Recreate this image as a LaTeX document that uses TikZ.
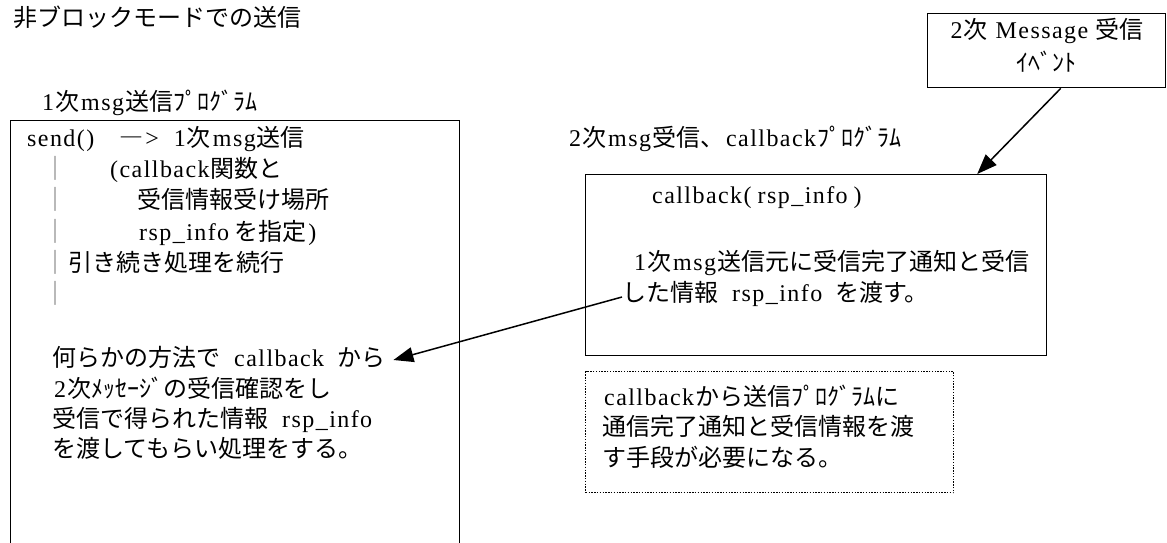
\documentclass[tikz,border=0pt]{standalone}
\usepackage{fontspec}
\setmainfont{Noto Sans CJK JP}
\newfontfamily\lt[LetterSpace=6]{Liberation Serif}
\usetikzlibrary{arrows.meta}
% Latin text, letter-spaced to the width of half-width characters
\newcommand{\hw}[1]{\hspace{2pt}{\lt\fontsize{24}{28}\selectfont #1}\hspace{1pt}}
\newcommand{\hs}{\hspace{12pt}}
\begin{document}
\begin{tikzpicture}[x=1pt,y=-1pt,
  txt/.style={anchor=west, inner sep=0pt, text height=20pt, text depth=3pt, font=\fontsize{24}{28}\selectfont},
  barch/.style={txt, text=black!55},
  box/.style={draw, line width=1.4pt, inner sep=0pt, anchor=north west},
  dotbox/.style={box, line width=1.4pt, dash pattern=on 1.4pt off 1.4pt},
  arr/.style={line width=1.5pt, -{Triangle[length=20pt,width=15pt]}}]
\useasboundingbox (0,0) rectangle (1167,542);
\clip (0,0) rectangle (1167,542);
% title
\node[txt] (t0) at (13,18) {非ブロックモードでの送信};
% left program
\node[txt] (t1) at (40,102) {\hw{1}次\hw{msg}送信ﾌﾟﾛｸﾞﾗﾑ};
\node[box, minimum width=449pt, minimum height=440pt] (lb) at (10,120) {};
\node[txt] (s1) at (25,138) {\hw{send()}\hspace{24pt}―\hw{>}\hs\hw{1}次\hw{msg}送信};
\node[barch] (b1) at (43,169) {｜};
\node[txt] (s2) at (108,169) {\hw{(callback}関数と};
\node[barch] (b2) at (43,200) {｜};
\node[txt] (s3) at (137,200) {受信情報受け場所};
\node[barch] (b3) at (43,232) {｜};
\node[txt] (s4) at (137,232) {\hw{rsp\_info}\hspace{4pt}を指定\hw{)}};
\node[barch] (b4) at (43,263) {｜};
\node[txt] (s5) at (68,263) {引き続き処理を続行};
\node[barch] (b5) at (43,294) {｜};
\node[txt] (k1) at (52,358) {何らかの方法で\hs\hw{callback}\hs から};
\node[txt] (k2) at (52,389) {\hw{2}次ﾒｯｾｰｼﾞの受信確認をし};
\node[txt] (k3) at (52,419) {受信で得られた情報\hs\hw{rsp\_info}};
\node[txt] (k4) at (52,449) {を渡してもらい処理をする。};
% event box
\node[box, minimum width=238pt, minimum height=74pt] (ev) at (927,13) {};
\node[txt, anchor=center] (e1) at (1046,30) {\hw{2}次\hspace{6pt}\hw{Message}\hspace{6pt}受信};
\node[txt, anchor=center] (e2) at (1046,63) {ｲﾍﾞﾝﾄ};
% callback program
\node[txt] (c0) at (567,138) {\hw{2}次\hw{msg}受信、\hw{callback}ﾌﾟﾛｸﾞﾗﾑ};
\node[box, minimum width=461pt, minimum height=181pt] (cb) at (585,174) {};
\node[txt] (c1) at (650,195) {\hw{callback(\hspace{6pt}rsp\_info\hspace{6pt})}};
\node[txt] (c2) at (632,262) {\hw{1}次\hw{msg}送信元に受信完了通知と受信};
\node[txt] (c3) at (622,293) {した情報\hs\hw{rsp\_info}\hs を渡す。};
% dotted note
\node[dotbox, minimum width=368pt, minimum height=121pt] (db) at (585,371) {};
\node[txt] (d1) at (602,397) {\hw{callback}から送信ﾌﾟﾛｸﾞﾗﾑに};
\node[txt] (d2) at (602,427) {通信完了通知と受信情報を渡};
\node[txt] (d3) at (602,458) {す手段が必要になる。};
% arrows
\coordinate (a1s) at ([xshift=14pt]ev.south);
\coordinate (a1e) at ([xshift=161pt]cb.north);
\draw[arr] (a1s) -- (a1e);
\coordinate (a2s) at ([yshift=-4pt]c3.west);
\coordinate (a2e) at ([xshift=8pt,yshift=-2pt]k1.east);
\draw[arr] (a2s) -- (a2e);
\end{tikzpicture}
\end{document}
